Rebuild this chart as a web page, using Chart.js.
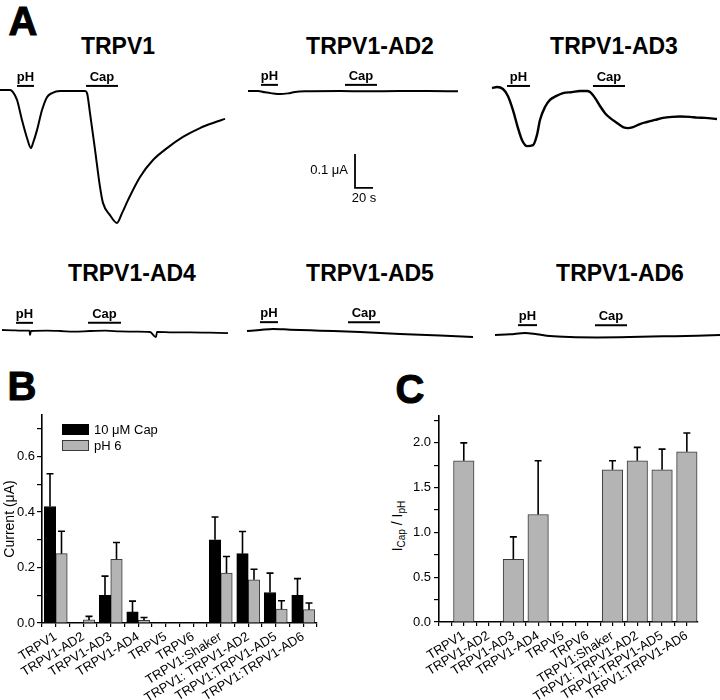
<!DOCTYPE html>
<html>
<head>
<meta charset="utf-8">
<script src="https://cdn.jsdelivr.net/npm/chart.js@4.4.0/dist/chart.umd.min.js"></script>
<style>
  body { margin: 0; background: #fff; }
  #fig { position: relative; width: 720px; height: 700px; overflow: hidden;
         font-family: "Liberation Sans", Arial, sans-serif; color: #000; }
  #fig canvas { position: absolute; }
  .lbl { position: absolute; transform: translate(-50%, -50%); white-space: nowrap; font-weight: bold; }
  .panel { font-size: 40px; -webkit-text-stroke: 1px #000; }
  .title { font-size: 23px; }
  .ylab { position: absolute; transform: translate(-50%, -50%) rotate(-90deg);
          white-space: nowrap; font-size: 14px; color: #000; -webkit-font-smoothing: antialiased; }
  .ylab sub { font-size: 10px; }
</style>
</head>
<body>
<div id="fig">
  <div class="lbl panel" style="left:23px;top:21px">A</div>
  <div class="lbl panel" style="left:22px;top:386px">B</div>
  <div class="lbl panel" style="left:410px;top:389px">C</div>
  <div class="lbl title" style="left:118px;top:46px">TRPV1</div>
  <div class="lbl title" style="left:370px;top:46px">TRPV1-AD2</div>
  <div class="lbl title" style="left:614px;top:46px">TRPV1-AD3</div>
  <div class="lbl title" style="left:132px;top:273px">TRPV1-AD4</div>
  <div class="lbl title" style="left:370px;top:273px">TRPV1-AD5</div>
  <div class="lbl title" style="left:620px;top:273px">TRPV1-AD6</div>
  <div class="ylab" style="left:398px;top:526px">I<sub>Cap</sub> / I<sub>pH</sub></div>
</div>
<script>
// ---- Panel A: oocyte current traces (time in s from trace start, current in uA from baseline)
const traceNames = ["TRPV1", "TRPV1-AD2", "TRPV1-AD3", "TRPV1-AD4", "TRPV1-AD5", "TRPV1-AD6"];

const timeTRPV1 = [0, 11.1, 14.4, 18.9, 24.4, 30, 34.4, 36.7, 41.1, 46.7, 52.2, 57.8, 66.7, 74.4, 94.4, 96.7,
  100, 105.6, 111.1, 114.4, 122.2, 130, 135.6, 142.2, 155.6, 170, 185.6, 203.3, 222.2, 236.7, 250];
const currentTRPV1 = [0, 0, -0.006, -0.029, -0.088, -0.141, -0.171, -0.156, -0.118, -0.059, -0.021, -0.009,
  -0.003, -0.003, -0.003, -0.009, -0.068, -0.176, -0.285, -0.332, -0.368, -0.391, -0.362, -0.324, -0.256,
  -0.206, -0.171, -0.138, -0.112, -0.097, -0.085];

const timeAD2 = [0, 11.1, 18.9, 26.7, 35.6, 44.4, 52.2, 63.3, 102.2, 130, 168.9, 200, 233.3];
const currentAD2 = [0, 0, -0.004, -0.007, -0.009, -0.007, -0.003, -0.001, 0, -0.001, 0, 0, -0.001];

const timeAD3 = [0, 5.6, 12.2, 17.8, 23.3, 28.9, 33.3, 38.9, 45.6, 50, 53.3, 58.9, 64.4, 71.1, 78.9, 88.9,
  97.8, 105.6, 108.9, 114.4, 120, 125.6, 131.1, 138.9, 145.6, 151.1, 156.7, 164.4, 172.2, 181.1, 190, 200,
  208.9, 220, 227.8, 236.7, 250];
const currentAD3 = [0, 0.003, -0.003, -0.024, -0.065, -0.118, -0.153, -0.171, -0.168, -0.138, -0.094, -0.056,
  -0.035, -0.024, -0.015, -0.012, -0.009, -0.009, -0.012, -0.029, -0.053, -0.074, -0.088, -0.103, -0.115,
  -0.118, -0.115, -0.106, -0.1, -0.094, -0.088, -0.085, -0.084, -0.085, -0.087, -0.088, -0.091];

const timeAD4 = [0, 12, 20, 30.5, 31.1, 32.2, 50, 64.4, 80, 97.8, 115, 131.1, 150, 164.4, 171.1, 172.2, 190,
  208.9, 230, 251.1];
const currentAD4 = [0.003, 0.002, 0.001, 0.001, -0.012, 0, 0.001, 0, -0.002, 0, 0.001, -0.001, -0.002, -0.003,
  -0.018, -0.003, -0.004, -0.004, -0.005, -0.006];

const timeAD5 = [0, 14.4, 28.9, 47.8, 81.1, 125.6, 170, 214.4, 251.1];
const currentAD5 = [0, 0.003, 0.006, 0.004, 0.001, -0.003, -0.009, -0.013, -0.018];

const timeAD6 = [0, 16.7, 33.3, 46.7, 61.1, 83.3, 113.3, 150, 186.7, 224.4, 250];
const currentAD6 = [0, 0.002, 0.006, 0.002, -0.003, -0.006, -0.007, -0.006, -0.004, -0.002, 0];

const traceTimes = [timeTRPV1, timeAD2, timeAD3, timeAD4, timeAD5, timeAD6];
const traceCurrents = [currentTRPV1, currentAD2, currentAD3, currentAD4, currentAD5, currentAD6];

// stimulus application windows (s) and the current level (uA) the bars sit at
const pHOn = [18.9, 14.4, 16.7, 15.6, 14.4, 25.6];
const pHOff = [37.8, 33.3, 42.2, 34.4, 34.4, 46.7];
const capOn = [95.6, 107.8, 112.2, 95.6, 112.2, 111.1];
const capOff = [131.1, 143.3, 147.8, 132.2, 147.8, 146.7];
const stimLevel = [0.012, 0.018, 0.006, 0.024, 0.026, 0.029];

// ---- Panel B: peak currents (uA)
const categories = ["TRPV1", "TRPV1-AD2", "TRPV1-AD3", "TRPV1-AD4", "TRPV5", "TRPV6",
  "TRPV1:Shaker", "TRPV1: TRPV1-AD2", "TRPV1:TRPV1-AD5", "TRPV1:TRPV1-AD6"];
const capCurrent = [0.42, 0, 0.10, 0.04, 0, 0, 0.30, 0.25, 0.11, 0.10];
const capError = [0.118, 0, 0.069, 0.039, 0, 0, 0.082, 0.08, 0.07, 0.06];
const phCurrent = [0.25, 0.011, 0.23, 0.01, 0, 0, 0.18, 0.156, 0.05, 0.048];
const phError = [0.081, 0.013, 0.06, 0.01, 0, 0, 0.06, 0.038, 0.03, 0.024];

// ---- Panel C: ICap / IpH ratio
const ratio = [1.8, null, 0.7, 1.2, null, null, 1.7, 1.8, 1.7, 1.9];
const ratioError = [0.2, null, 0.25, 0.6, null, null, 0.1, 0.15, 0.23, 0.21];

const PX_PER_S = 0.9;    // 20 s scale bar is 18 px
const PX_PER_UA = 340;   // 0.1 uA scale bar is 34 px

// where each trace canvas sits, and which pixel is the trace start / baseline
const traceBoxes = [
  { left: 0, top: 55, w: 240, h: 185, xs: 0, yb: 90, lw: 2 },
  { left: 240, top: 55, w: 240, h: 185, xs: 248, yb: 91, lw: 2 },
  { left: 480, top: 55, w: 240, h: 185, xs: 492, yb: 88, lw: 2.4 },
  { left: 0, top: 295, w: 240, h: 65, xs: 2, yb: 331, lw: 1.8 },
  { left: 240, top: 295, w: 240, h: 65, xs: 247, yb: 331, lw: 2 },
  { left: 480, top: 295, w: 240, h: 65, xs: 495, yb: 335, lw: 2 },
];

const FONT = "'Liberation Sans', Arial, sans-serif";
Chart.defaults.font.family = FONT;
Chart.defaults.color = "#000";

const fig = document.getElementById("fig");
function addCanvas(left, top, w, h) {
  const c = document.createElement("canvas");
  c.width = w;
  c.height = h;
  c.style.left = left + "px";
  c.style.top = top + "px";
  fig.appendChild(c);
  return c;
}

// Draws the pH / Cap application bars (and the scale bar on one trace)
const stimPlugin = {
  id: "stim",
  afterDatasetsDraw(chart, args, opts) {
    const { ctx, scales: { x, y } } = chart;
    ctx.save();
    ctx.strokeStyle = "#000";
    ctx.fillStyle = "#000";
    ctx.lineWidth = 2;
    ctx.font = "bold 13px " + FONT;
    ctx.textAlign = "center";
    ctx.textBaseline = "alphabetic";
    [["pH", opts.pH], ["Cap", opts.cap]].forEach(([name, win]) => {
      const x0 = x.getPixelForValue(win[0]);
      const x1 = x.getPixelForValue(win[1]);
      const yy = y.getPixelForValue(opts.level);
      ctx.beginPath();
      ctx.moveTo(x0, yy);
      ctx.lineTo(x1, yy);
      ctx.stroke();
      ctx.fillText(name, (x0 + x1) / 2, yy - 5);
    });
    if (opts.scaleBar) {
      const sb = opts.scaleBar;
      const px = x.getPixelForValue(sb.t);
      const py = y.getPixelForValue(sb.i);
      const pxEnd = x.getPixelForValue(sb.t + 20);
      const pyTop = y.getPixelForValue(sb.i + 0.1);
      ctx.lineWidth = 1.8;
      ctx.beginPath();
      ctx.moveTo(px, pyTop);
      ctx.lineTo(px, py);
      ctx.lineTo(pxEnd, py);
      ctx.stroke();
      ctx.font = "13px " + FONT;
      ctx.textBaseline = "middle";
      ctx.textAlign = "right";
      ctx.fillText("0.1 \u03bcA", px - 7, (py + pyTop) / 2);
      ctx.textAlign = "center";
      ctx.fillText("20 s", (px + pxEnd) / 2, py + 11);
    }
    ctx.restore();
  },
};

traceNames.forEach((name, i) => {
  const box = traceBoxes[i];
  const xMin = -(box.xs - box.left) / PX_PER_S;
  const yMax = (box.yb - box.top) / PX_PER_UA;
  const canvas = addCanvas(box.left, box.top, box.w, box.h);
  new Chart(canvas, {
    type: "scatter",
    data: {
      datasets: [{
        label: name,
        data: traceTimes[i].map((t, k) => ({ x: t, y: traceCurrents[i][k] })),
        showLine: true,
        borderColor: "#000",
        borderWidth: box.lw,
        pointRadius: 0,
        cubicInterpolationMode: "monotone",
      }],
    },
    options: {
      animation: false,
      responsive: false,
      events: [],
      layout: { padding: 0 },
      plugins: {
        legend: { display: false },
        tooltip: { enabled: false },
        stim: {
          pH: [pHOn[i], pHOff[i]],
          cap: [capOn[i], capOff[i]],
          level: stimLevel[i],
          scaleBar: i === 1 ? { t: 118.9, i: -0.285 } : null,
        },
      },
      scales: {
        x: { type: "linear", display: false, min: xMin, max: xMin + box.w / PX_PER_S },
        y: { type: "linear", display: false, min: yMax - box.h / PX_PER_UA, max: yMax },
      },
    },
    plugins: [stimPlugin],
  });
});

// Upward error bars for bar datasets carrying an "err" array
const errorBarPlugin = {
  id: "errorBars",
  afterDatasetsDraw(chart) {
    const { ctx } = chart;
    const yScale = chart.scales.y;
    ctx.save();
    ctx.strokeStyle = "#000";
    ctx.lineWidth = 1.6;
    chart.data.datasets.forEach((ds, di) => {
      const meta = chart.getDatasetMeta(di);
      meta.data.forEach((bar, k) => {
        const v = ds.data[k].y;
        const e = ds.err[k];
        if (v === null || !e) return;
        const top = yScale.getPixelForValue(v + e);
        ctx.beginPath();
        ctx.moveTo(bar.x, bar.y);
        ctx.lineTo(bar.x, top);
        ctx.moveTo(bar.x - 3.5, top);
        ctx.lineTo(bar.x + 3.5, top);
        ctx.stroke();
      });
    });
    ctx.restore();
  },
};

// Legend drawn as stacked boxes inside panel B's plot area
const boxLegendPlugin = {
  id: "boxLegend",
  afterDraw(chart, args, opts) {
    if (!opts.show) return;
    const { ctx } = chart;
    ctx.save();
    ctx.font = "13px " + FONT;
    ctx.textBaseline = "middle";
    ctx.textAlign = "left";
    chart.data.datasets.forEach((ds, i) => {
      const yy = opts.y + i * opts.step;
      ctx.fillStyle = ds.backgroundColor;
      ctx.fillRect(opts.x, yy, 27, 11);
      ctx.strokeStyle = ds.borderColor;
      ctx.lineWidth = 1;
      ctx.strokeRect(opts.x + 0.5, yy + 0.5, 26, 10);
      ctx.fillStyle = "#000";
      ctx.fillText(ds.label, opts.x + 32, yy + 6);
    });
    ctx.restore();
  },
};

function categoryLabel(v) {
  const r = Math.round(v);
  return Math.abs(v - r) < 1e-6 && r >= 0 && r < categories.length ? categories[r] : "";
}

function xAxis(min, max, height) {
  return {
    type: "linear",
    min: min,
    max: max,
    offset: false,
    ticks: {
      stepSize: 0.5,
      includeBounds: false,
      autoSkip: false,
      minRotation: 32,
      maxRotation: 32,
      padding: 2,
      font: { size: 13 },
      callback: categoryLabel,
    },
    grid: { offset: false, drawOnChartArea: false, drawTicks: true, tickLength: 4, color: "#000", lineWidth: 1.2 },
    border: { display: true, color: "#000", width: 1.6 },
    afterFit(scale) { scale.height = height; },
  };
}

// Panel B
const canvasB = addCanvas(0, 360, 360, 340);
new Chart(canvasB, {
  type: "bar",
  data: {
    datasets: [
      {
        label: "10 \u03bcM Cap",
        data: capCurrent.map((v, k) => ({ x: k, y: v })),
        err: capError,
        backgroundColor: "#000",
        borderColor: "#000",
        borderWidth: 1,
        barThickness: 11.5,
      },
      {
        label: "pH 6",
        data: phCurrent.map((v, k) => ({ x: k, y: v })),
        err: phError,
        backgroundColor: "#b4b4b4",
        borderColor: "#3a3a3a",
        borderWidth: 1,
        barThickness: 11.5,
      },
    ],
  },
  options: {
    animation: false,
    responsive: false,
    events: [],
    layout: { padding: { top: 55, right: 43, left: 0, bottom: 0 } },
    plugins: {
      legend: { display: false },
      tooltip: { enabled: false },
      boxLegend: { show: true, x: 62, y: 64, step: 16 },
    },
    scales: {
      x: xAxis(-0.5, 9.5, 77),
      y: {
        min: 0,
        max: 0.75,
        ticks: {
          stepSize: 0.1,
          includeBounds: false,
          padding: 2,
          font: { size: 13 },
          callback: (v) => (Math.round(v * 10) % 2 === 0 ? v.toFixed(1) : ""),
        },
        grid: { drawOnChartArea: false, drawTicks: true, tickLength: 5, color: "#000", lineWidth: 1.2 },
        border: { display: true, color: "#000", width: 1.6 },
        title: { display: true, text: "Current (\u03bcA)", font: { size: 14 }, padding: { top: 2, bottom: 0 } },
        afterFit(scale) { scale.width = 42; },
      },
    },
  },
  plugins: [errorBarPlugin, boxLegendPlugin],
});

// Panel C
const canvasC = addCanvas(360, 360, 360, 340);
new Chart(canvasC, {
  type: "bar",
  data: {
    datasets: [{
      label: "ICap / IpH",
      data: ratio.map((v, k) => ({ x: k, y: v })),
      err: ratioError,
      backgroundColor: "#b4b4b4",
      borderColor: "#3a3a3a",
      borderWidth: 1,
      barThickness: 20.5,
    }],
  },
  options: {
    animation: false,
    responsive: false,
    events: [],
    layout: { padding: { top: 56, right: 22, left: 0, bottom: 0 } },
    plugins: { legend: { display: false }, tooltip: { enabled: false } },
    scales: {
      x: xAxis(-1, 9.45, 78),
      y: {
        min: 0,
        max: 2.3,
        ticks: {
          stepSize: 0.25,
          includeBounds: false,
          padding: 3,
          font: { size: 13 },
          callback: (v) => (Math.round(v * 4) % 2 === 0 ? v.toFixed(1) : ""),
        },
        grid: { drawOnChartArea: false, drawTicks: true, tickLength: 5, color: "#000", lineWidth: 1.2 },
        border: { display: true, color: "#000", width: 1.6 },
        afterFit(scale) { scale.width = 79; },
      },
    },
  },
  plugins: [errorBarPlugin],
});
</script>
</body>
</html>
